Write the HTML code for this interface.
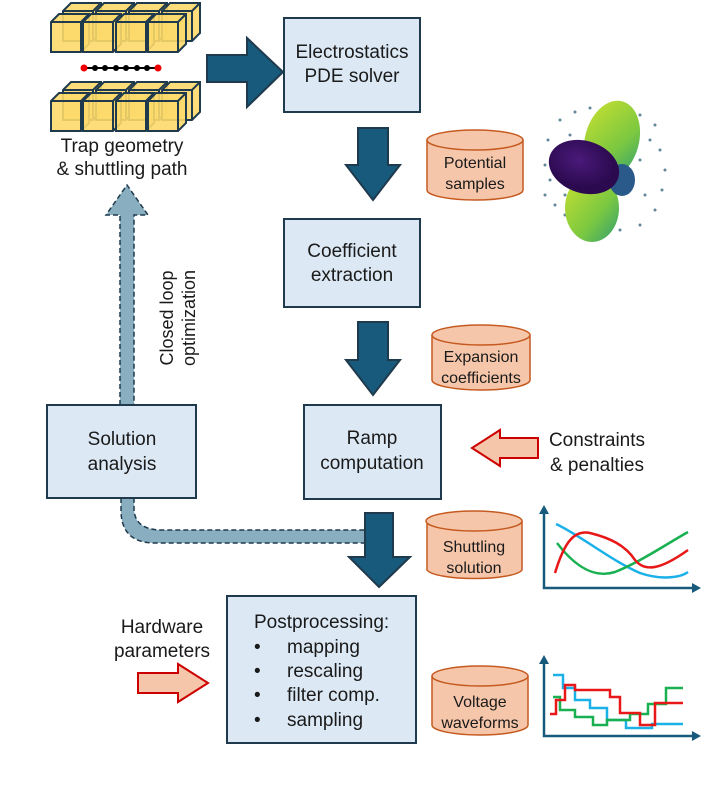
<!DOCTYPE html>
<html><head><style>
body{margin:0;background:#fff;}
svg text{font-family:"Liberation Sans",sans-serif;fill:#1a1a1a;}
</style></head><body>
<svg width="718" height="781" viewBox="0 0 718 781" xmlns="http://www.w3.org/2000/svg">
<defs>
<radialGradient id="purp" cx="0.4" cy="0.4"><stop offset="0" stop-color="#4a1a7a"/><stop offset="1" stop-color="#2c0a50"/></radialGradient>
<linearGradient id="lobe" x1="0" y1="0" x2="1" y2="1"><stop offset="0" stop-color="#c8e030"/><stop offset="0.6" stop-color="#7cc840"/><stop offset="1" stop-color="#30a070"/></linearGradient>
<g id="cube"><path d="M0 8 L8 0 L38 0 L38 30 L30 38 L0 38 Z" fill="#fcd96a" stroke="#1f3a4d" stroke-width="2" fill-opacity="0.9"/><path d="M0 8 L30 8 L38 0 M30 8 L30 38" fill="none" stroke="#1f3a4d" stroke-width="2"/></g>
</defs>
<g>
<use href="#cube" x="63" y="3"/><use href="#cube" x="96" y="3"/><use href="#cube" x="129" y="3"/><use href="#cube" x="162" y="3"/>
<use href="#cube" x="51" y="14"/><use href="#cube" x="83" y="14"/><use href="#cube" x="116" y="14"/><use href="#cube" x="148" y="14"/>
<use href="#cube" x="63" y="82"/><use href="#cube" x="96" y="82"/><use href="#cube" x="129" y="82"/><use href="#cube" x="162" y="82"/>
<use href="#cube" x="51" y="93"/><use href="#cube" x="83" y="93"/><use href="#cube" x="116" y="93"/><use href="#cube" x="148" y="93"/>
</g>
<line x1="84" y1="68" x2="158" y2="68" stroke="#000" stroke-width="2"/>
<g fill="#000"><circle cx="95" cy="68" r="3"/><circle cx="105" cy="68" r="3"/><circle cx="116" cy="68" r="3"/><circle cx="126" cy="68" r="3"/><circle cx="137" cy="68" r="3"/><circle cx="147" cy="68" r="3"/></g>
<circle cx="84" cy="68" r="3.5" fill="#e00"/><circle cx="158" cy="68" r="3.5" fill="#e00"/>
<text x="122" y="152" font-size="19" text-anchor="middle">Trap geometry</text>
<text x="122" y="175" font-size="19" text-anchor="middle">&amp; shuttling path</text>

<path d="M120 405 L120 215 L106 215 L127 185 L148 215 L134 215 L134 405" fill="#88aec0" stroke="#1f3a4d" stroke-width="1.5" stroke-dasharray="5,3"/>
<path d="M121 498 L121 510 Q121 543 155 543 L368 543 L368 530 L162 530 Q134 530 134 508 L134 498 Z" fill="#88aec0" stroke="#1f3a4d" stroke-width="1.5" stroke-dasharray="5,3"/>
<text transform="translate(183,318) rotate(-90)" font-size="18" text-anchor="middle"><tspan x="0" y="-10">Closed loop</tspan><tspan x="0" y="12">optimization</tspan></text>

<g fill="#175a7c" stroke="#1f3a4d" stroke-width="2">
<path d="M207 55 L247 55 L247 38 L283 72 L247 107 L247 82 L207 82 Z"/>
<path d="M358 128 L388 128 L388 165 L400 165 L373 200 L346 165 L358 165 Z"/>
<path d="M358 322 L388 322 L388 360 L400 360 L373 395 L346 360 L358 360 Z"/>
<path d="M365 513 L393 513 L393 557 L410 557 L379 587 L349 557 L365 557 Z"/>
</g>

<g fill="#dce9f5" stroke="#1f3a4d" stroke-width="2">
<rect x="284" y="18" width="136" height="94"/>
<rect x="284" y="219" width="136" height="88"/>
<rect x="304" y="405" width="137" height="94"/>
<rect x="47" y="405" width="149" height="93"/>
<rect x="227" y="596" width="189" height="147"/>
</g>
<g font-size="19" text-anchor="middle">
<text x="352" y="58">Electrostatics</text><text x="352" y="82">PDE solver</text>
<text x="352" y="257">Coefficient</text><text x="352" y="281">extraction</text>
<text x="372" y="444">Ramp</text><text x="372" y="469">computation</text>
<text x="122" y="445">Solution</text><text x="122" y="470">analysis</text>
</g>
<g font-size="19">
<text x="254" y="628">Postprocessing:</text>
<text x="254" y="653">•</text><text x="287" y="653">mapping</text>
<text x="254" y="677">•</text><text x="287" y="677">rescaling</text>
<text x="254" y="701">•</text><text x="287" y="701">filter comp.</text>
<text x="254" y="726">•</text><text x="287" y="726">sampling</text>
</g>

<path d="M538 438 L500 438 L500 430 L472 448 L500 466 L500 458 L538 458 Z" fill="#f6c6aa" stroke="#c00" stroke-width="2"/>
<text x="597" y="446" font-size="19" text-anchor="middle">Constraints</text>
<text x="597" y="471" font-size="19" text-anchor="middle">&amp; penalties</text>
<path d="M138 673 L178 673 L178 664 L208 683 L178 702 L178 693 L138 693 Z" fill="#f6c6aa" stroke="#c00" stroke-width="2"/>
<text x="162" y="633" font-size="19" text-anchor="middle">Hardware</text>
<text x="162" y="657" font-size="19" text-anchor="middle">parameters</text>

<g fill="#f6c6aa" stroke="#c55a20" stroke-width="1.5">
<path d="M427 140 L427 190 A48 10 0 0 0 523 190 L523 140"/><ellipse cx="475" cy="140" rx="48" ry="10"/>
<path d="M432 335 L432 380 A49 10 0 0 0 530 380 L530 335"/><ellipse cx="481" cy="335" rx="49" ry="10"/>
<path d="M427 521 L427 570 A48 10 0 0 0 522 570 L522 521"/><ellipse cx="474" cy="521" rx="48" ry="10"/>
<path d="M432 676 L432 725 A48 10 0 0 0 528 725 L528 676"/><ellipse cx="480" cy="676" rx="48" ry="10"/>
</g>
<g font-size="16" text-anchor="middle">
<text x="475" y="168">Potential</text><text x="475" y="189">samples</text>
<text x="481" y="362">Expansion</text><text x="481" y="383">coefficients</text>
<text x="474" y="552">Shuttling</text><text x="474" y="573">solution</text>
<text x="480" y="707">Voltage</text><text x="480" y="728">waveforms</text>
</g>

<g>
<g fill="#3a6a80" opacity="0.8">
<circle cx="560" cy="120" r="1.5"/><circle cx="575" cy="112" r="1.5"/><circle cx="590" cy="108" r="1.5"/><circle cx="640" cy="115" r="1.5"/><circle cx="655" cy="125" r="1.5"/><circle cx="548" cy="140" r="1.5"/><circle cx="555" cy="150" r="1.5"/><circle cx="545" cy="165" r="1.5"/><circle cx="550" cy="180" r="1.5"/><circle cx="545" cy="195" r="1.5"/><circle cx="555" cy="205" r="1.5"/><circle cx="565" cy="215" r="1.5"/><circle cx="575" cy="225" r="1.5"/><circle cx="620" cy="230" r="1.5"/><circle cx="640" cy="225" r="1.5"/><circle cx="655" cy="210" r="1.5"/><circle cx="662" cy="190" r="1.5"/><circle cx="665" cy="170" r="1.5"/><circle cx="660" cy="150" r="1.5"/><circle cx="650" cy="140" r="1.5"/><circle cx="570" cy="135" r="1.5"/><circle cx="565" cy="195" r="1.5"/><circle cx="645" cy="195" r="1.5"/><circle cx="640" cy="160" r="1.5"/>
</g>
<ellipse cx="612" cy="140" rx="27" ry="40" fill="url(#lobe)" transform="rotate(15 612 140)"/>
<ellipse cx="592" cy="208" rx="27" ry="34" fill="url(#lobe)"/>
<ellipse cx="622" cy="180" rx="13" ry="16" fill="#2a5a8a"/>
<ellipse cx="584" cy="167" rx="36" ry="26" fill="url(#purp)" transform="rotate(18 584 167)"/>
</g>

<g fill="none" stroke-width="2.5">
<path d="M556 524 C580 535, 610 560, 640 573 C660 580, 680 578, 688 572" stroke="#1ab0e8"/>
<path d="M557 543 C570 560, 590 580, 615 572 C640 562, 665 545, 688 532" stroke="#18b050"/>
<path d="M555 573 C565 540, 575 530, 590 533 C610 538, 625 545, 635 560 C645 572, 660 570, 688 550" stroke="#e81818"/>
</g>
<g stroke="#175a7c" stroke-width="2.5" fill="none"><path d="M544 510 L544 588 L695 588"/></g>
<path d="M544 505 L539 514 L549 514 Z M701 588 L692 583 L692 593 Z" fill="#175a7c"/>
<g fill="none" stroke-width="2.5">
<path d="M553 675 L563 675 L563 688 L575 688 L575 700 L590 700 L590 708 L607 708 L607 720 L626 720 L626 728 L652 728 L652 724 L683 724" stroke="#1ab0e8"/>
<path d="M553 697 L560 697 L560 710 L575 710 L575 717 L593 717 L593 725 L607 725 L607 720 L630 720 L630 714 L648 714 L648 704 L666 704 L666 688 L683 688" stroke="#18b050"/>
<path d="M550 714 L556 714 L556 700 L565 700 L565 685 L575 685 L575 690 L610 690 L610 697 L620 697 L620 713 L640 713 L640 725 L655 725 L655 703 L683 703" stroke="#e81818"/>
</g>
<g stroke="#175a7c" stroke-width="2.5" fill="none"><path d="M544 660 L544 736 L695 736"/></g>
<path d="M544 655 L539 664 L549 664 Z M701 736 L692 731 L692 741 Z" fill="#175a7c"/>
</svg>
</body></html>
